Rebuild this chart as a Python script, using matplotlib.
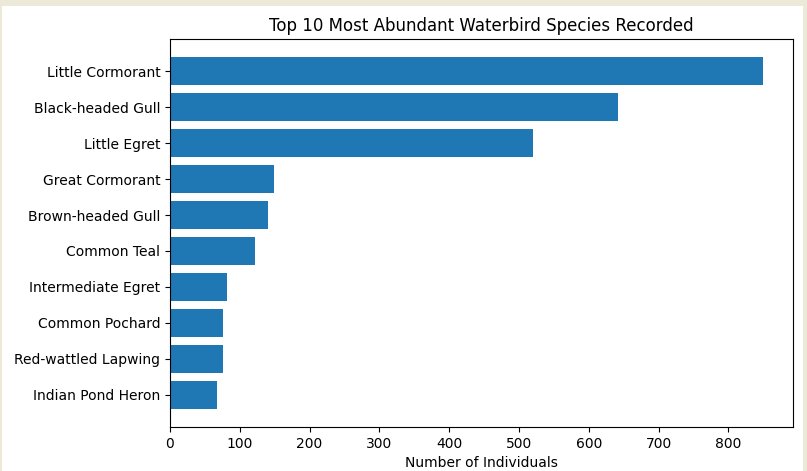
import matplotlib
matplotlib.use("Agg")
import matplotlib.pyplot as plt
from matplotlib.patches import Rectangle

species = ["Little Cormorant", "Black-headed Gull", "Little Egret", "Great Cormorant",
           "Brown-headed Gull", "Common Teal", "Intermediate Egret", "Common Pochard",
           "Red-wattled Lapwing", "Indian Pond Heron"]
counts = [850, 642, 520, 149, 140, 122, 82, 76, 76, 67]

W, H = 807, 471
fig = plt.figure(figsize=(W / 100, H / 100), dpi=100)
fig.patch.set_facecolor("#ECE9D8")
fig.patches.append(Rectangle((2 / W, 0), (803 - 2) / W, (H - 6) / H,
                             transform=fig.transFigure, facecolor="white",
                             edgecolor="none", zorder=-1))

ax = fig.add_axes([170 / W, 1 - 427 / H, (793 - 170) / W, (427 - 39) / H])
ax.barh(species[::-1], counts[::-1], color="#1f77b4")
ax.set_xlim(0, max(counts) * 1.05)
ax.set_title("Top 10 Most Abundant Waterbird Species Recorded", fontsize=12)
ax.set_xlabel("Number of Individuals")

fig.savefig("out.png", dpi=100, facecolor=fig.get_facecolor())
